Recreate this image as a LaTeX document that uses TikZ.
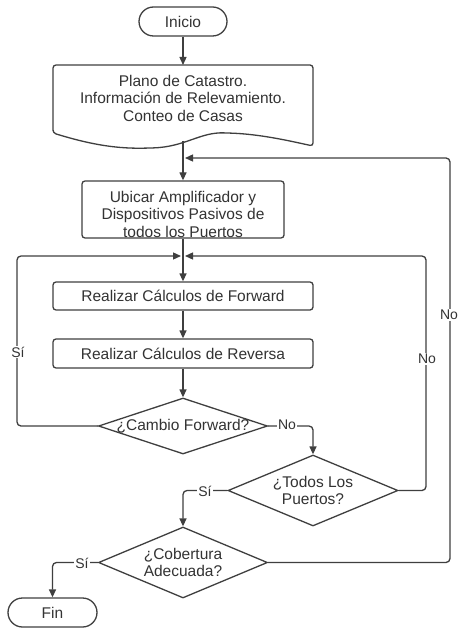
\documentclass[tikz,border=0pt]{standalone}
\usepackage{fontspec}
\setmainfont{Liberation Sans}
\usetikzlibrary{arrows.meta,shapes.geometric}
\definecolor{ln}{HTML}{3F3F3F}
\definecolor{tx}{HTML}{333333}
\tikzset{
  base/.style={draw=ln, line width=1.3pt, text=tx, font=\fontsize{15.5}{17.5}\selectfont, align=center, inner sep=0pt},
  term/.style={base, rectangle, rounded corners=14.5pt, minimum height=29pt},
  procbox/.style={base, rectangle, rounded corners=3pt},
  dec/.style={base, diamond, minimum width=169pt},
  txt/.style={text=tx, font=\fontsize{15.5}{17.5}\selectfont, align=center, inner sep=0pt},
  lbl/.style={text=tx, font=\fontsize{14}{16}\selectfont, fill=white, inner sep=1pt},
  conn/.style={draw=ln, line width=1.3pt, rounded corners=4pt, -{Triangle[length=8pt,width=7pt]}},
  plain/.style={draw=ln, line width=1.3pt, rounded corners=4pt},
}
\begin{document}
\begin{tikzpicture}[x=1pt,y=-1pt]
\useasboundingbox[fill=white] (0,0) rectangle (460,628);

% Inicio
\node[term, minimum width=88pt] (inicio) at (183,21.5) {Inicio};

% Documento
\draw[draw=ln, line width=1.3pt, rounded corners=3pt] (53,133) -- (53,65) -- (313,65) -- (313,146)
  .. controls (290,141) and (260,134) .. (227,133)
  .. controls (200,132) and (185,147) .. (150,148)
  .. controls (118,149) and (92,145) .. (53,133) -- cycle;
\node[txt] (doc) at (183,98) {Plano de Catastro.\\Información de Relevamiento.\\Conteo de Casas};
\coordinate (docT) at (183,65);
\coordinate (docB) at (183,141);
\coordinate (m1) at (183,158);

% Ubicar
\node[procbox, minimum width=202pt, minimum height=57pt] (ubicar) at (183,209.5) {};
\node[txt] (ubicarT) at (183,214) {Ubicar Amplificador y\\Dispositivos Pasivos de\\todos los Puertos};
\coordinate (m2) at (183,256);

% Cálculos
\node[procbox, minimum width=260pt, minimum height=28pt] (fwd) at (183,296) {Realizar Cálculos de Forward};
\node[procbox, minimum width=260pt, minimum height=29pt] (rev) at (183,353.5) {Realizar Cálculos de Reversa};

% Decisiones
\node[dec, minimum height=56pt, label={[txt]center:¿Cambio Forward?}] (cambio) at (183,426) {};
\node[dec, minimum width=170pt, minimum height=71pt, label={[txt]center:¿Todos Los\\Puertos?}] (todos) at (313,490.5) {};
\node[dec, minimum height=71pt, label={[txt]center:¿Cobertura\\Adecuada?}] (cob) at (183,562.5) {};

% Fin
\node[term, minimum width=89pt] (fin) at (52.5,612.5) {Fin};

% Conectores
\draw[conn] (inicio.south) -- (docT);
\draw[conn] (docB) -- (ubicar.north);
\draw[conn] (ubicar.south) -- (fwd.north);
\draw[conn] (fwd.south) -- (rev.north);
\draw[conn] (rev.south) -- (cambio.north);

\coordinate (xL) at (17,0);
\coordinate (xN) at (426,0);
\coordinate (xO) at (450,0);

\draw[conn, shorten >=2pt] (cambio.west) -- (xL |- cambio) -- (xL |- m2) -- (m2);
\node[lbl] (siA) at (18,352) {Sí};

\draw[conn] (cambio.east) -- (todos.north |- cambio) -- (todos.north);
\node[lbl] (noA) at (287,425) {No};

\draw[conn, shorten >=2pt] (todos.east) -- (xN |- todos) -- (xN |- m2) -- (m2);
\node[lbl] (noB) at (427,359) {No};

\draw[conn] (todos.west) -- (cob.north |- todos) -- (cob.north);
\node[lbl] (siB) at (205,491) {Sí};

\draw[conn, shorten >=2pt] (cob.east) -- (xO |- cob) -- (xO |- m1) -- (m1);
\node[lbl] (noC) at (449,315) {No};

\draw[conn] (cob.west) -- (fin.north |- cob) -- (fin.north);
\node[lbl] (siC) at (82,563) {Sí};
\end{tikzpicture}
\end{document}
